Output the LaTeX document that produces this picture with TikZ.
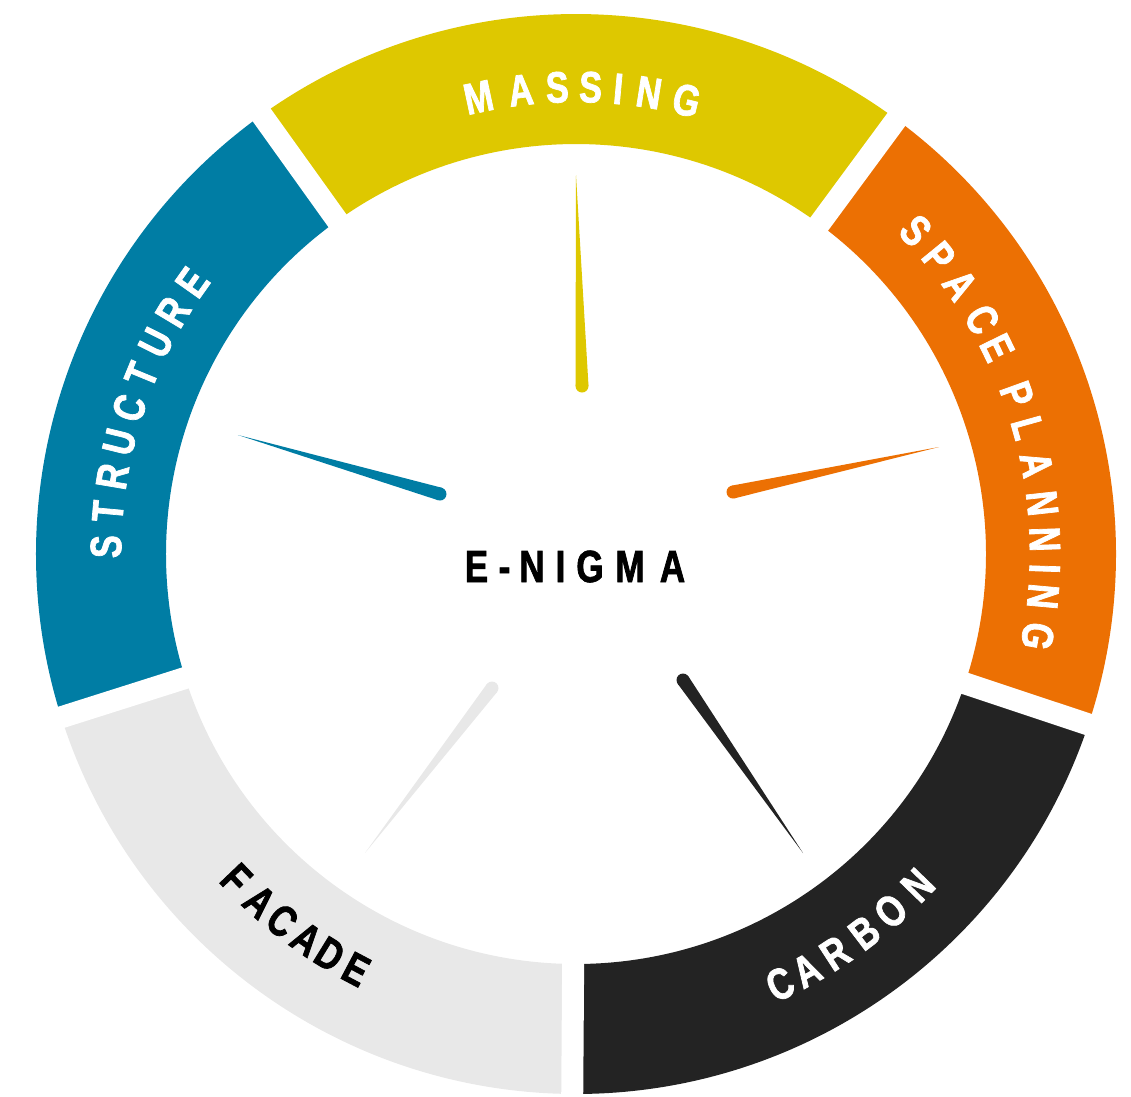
\documentclass[tikz,border=0pt]{standalone}
\usepackage{fontspec}
\newfontfamily\ringfont[FakeStretch=0.78,FakeBold=1.6]{Liberation Sans}
\usetikzlibrary{calc}
\definecolor{massing}{HTML}{DEC800}
\definecolor{structure}{HTML}{007DA4}
\definecolor{facade}{HTML}{E8E8E8}
\definecolor{carbon}{HTML}{232323}
\definecolor{spaceplan}{HTML}{EC7003}
\begin{document}
\begin{tikzpicture}[x=1pt,y=1pt,
  gapline/.style={draw=white,line width=22pt},
  ringletter/.style={inner sep=0pt,font=\ringfont\bfseries\fontsize{44}{44}\selectfont},
  hubletter/.style={inner sep=0pt,anchor=base,font=\ringfont\bfseries\fontsize{45}{45}\selectfont}
]
\useasboundingbox (-576,-542) rectangle (555,554);
\def\Rout{540}
\def\Rin{410}

% ring segments, 72 degrees each
\foreach \a/\c in {53.6/massing,125.6/structure,197.6/facade,269.6/carbon,341.6/spaceplan}{
  \fill[\c] (\a:\Rout) arc[start angle=\a,end angle={\a+72},radius=\Rout]
    -- ({\a+72}:\Rin) arc[start angle={\a+72},end angle=\a,radius=\Rin] -- cycle;
}
% white gaps between segments
\foreach \a in {53.6,125.6,197.6,269.6,341.6}{
  \draw[gapline] (\a:390) -- (\a:560);
}

% segment labels, one letter at a time along the ring
\foreach \l/\t [count=\i] in {M/102.05,A/96.8,S/92.3,S/88.2,I/84.8,N/81.0,G/76.3}{
  \node[ringletter,text=white,rotate={\t-90}] (massing-\i) at (\t:467) {\l};
}
\foreach \l/\t [count=\i] in {S/179.1,T/174.8,R/170.5,U/166.2,C/161.9,T/157.6,U/153.3,R/149.0,E/144.7}{
  \node[ringletter,text=white,rotate={\t-90}] (structure-\i) at (\t:470) {\l};
}
\foreach \l/\t [count=\i] in {S/43.6,P/39.3,A/35.0,C/30.0,E/26.1,P/19.9,L/15.6,A/11.0,N/6.2,N/1.8,I/-1.8,N/-5.2,G/-10.1}{
  \node[ringletter,text=white,rotate={\t-90}] (spaceplan-\i) at (\t:469) {\l};
}
\foreach \l/\t [count=\i] in {C/295.4,A/299.0,R/303.0,B/307.3,O/311.4,N/315.9}{
  \node[ringletter,text=white,rotate={\t+90}] (carbon-\i) at (\t:476) {\l};
}
\foreach \l/\t [count=\i] in {F/223.7,A/227.7,C/231.3,A/235.0,D/238.4,E/242.1}{
  \node[ringletter,text=black,rotate={\t+90}] (facade-\i) at (\t:470) {\l};
}

% needles: tapered from a rounded base to a sharp tip
\foreach \n/\bx/\by/\tx/\ty/\c in {
  m/6/168/0/379/massing,
  s/-136/60/-338/119/structure,
  p/157/62/363/107/spaceplan,
  c/107/-126/227/-299/carbon,
  f/-84/-134/-211/-299/facade}{
  \coordinate (\n-base) at (\bx,\by);
  \coordinate (\n-tip) at (\tx,\ty);
  \fill[\c] ($(\n-base)!6.5pt!90:(\n-tip)$) -- (\n-tip)
    -- ($(\n-base)!6.5pt!-90:(\n-tip)$) -- cycle;
  \fill[\c] (\n-base) circle[radius=6.5];
}

% central title
\foreach \l/\x [count=\i] in {E/-99.5,-/-71.5,N/-44,I/-15.5,G/14,M/54,A/96.5}{
  \node[hubletter] (hub-\i) at (\x,-28) {\l};
}
\end{tikzpicture}
\end{document}
